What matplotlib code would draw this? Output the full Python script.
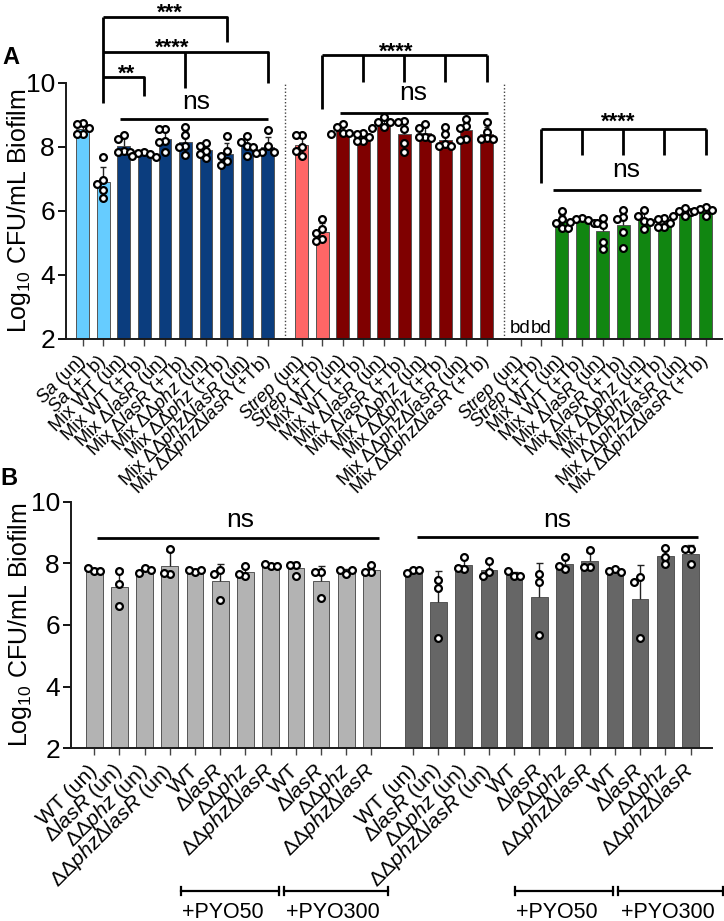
import numpy as np
import matplotlib.pyplot as plt

plt.rcParams['font.family'] = 'Liberation Sans'
plt.rcParams['mathtext.fontset'] = 'custom'
plt.rcParams['mathtext.rm'] = 'Liberation Sans'
plt.rcParams['mathtext.it'] = 'Liberation Sans:italic'
plt.rcParams['mathtext.bf'] = 'Liberation Sans:bold'

# ---- Panel A data (log10 CFU/mL, 5 replicates per bar) ----
sa_labels = [r'$\mathit{Sa}$ (un)', r'$\mathit{Sa}$ (+Tb)',
             'Mix WT (un)', 'Mix WT (+Tb)',
             r'Mix Δ$\mathit{lasR}$ (un)', r'Mix Δ$\mathit{lasR}$ (+Tb)',
             r'Mix ΔΔ$\mathit{phz}$ (un)', r'Mix ΔΔ$\mathit{phz}$ (+Tb)',
             r'Mix ΔΔ$\mathit{phz}$Δ$\mathit{lasR}$ (un)', r'Mix ΔΔ$\mathit{phz}$Δ$\mathit{lasR}$ (+Tb)']
strep_labels = [r'$\mathit{Strep}$ (un)', r'$\mathit{Strep}$ (+Tb)'] + sa_labels[2:]

sa_points = [
    [8.74, 8.72, 8.60, 8.42, 8.40],
    [7.68, 6.96, 6.83, 6.65, 6.40],
    [8.38, 8.25, 7.86, 7.84, 7.83],
    [7.85, 7.82, 7.78, 7.72, 7.70],
    [8.57, 8.55, 8.20, 8.15, 7.85],
    [8.61, 8.37, 8.03, 8.01, 7.75],
    [8.14, 8.04, 7.86, 7.78, 7.65],
    [8.33, 7.86, 7.73, 7.55, 7.44],
    [8.33, 8.17, 8.02, 7.99, 7.73],
    [8.54, 8.02, 7.84, 7.83, 7.82],
]
strep_points = [
    [8.37, 8.36, 7.99, 7.89, 7.71],
    [5.75, 5.45, 5.30, 5.12, 5.05],
    [8.71, 8.61, 8.44, 8.43, 8.42],
    [8.43, 8.40, 8.30, 8.20, 8.19],
    [8.95, 8.79, 8.77, 8.61, 8.60],
    [8.82, 8.77, 8.56, 8.11, 7.83],
    [8.71, 8.58, 8.31, 8.30, 8.29],
    [8.61, 8.40, 8.09, 8.04, 8.03],
    [8.87, 8.66, 8.58, 8.24, 8.23],
    [8.77, 8.48, 8.27, 8.25, 8.24],
]
# first two are below detection (bd)
strep_bd_points = [
    [], [],
    [5.99, 5.76, 5.61, 5.47, 5.46],
    [5.78, 5.74, 5.72, 5.66, 5.64],
    [5.78, 5.61, 5.55, 5.04, 4.82],
    [6.02, 5.81, 5.74, 5.35, 4.85],
    [6.02, 5.84, 5.68, 5.67, 5.45],
    [5.78, 5.74, 5.64, 5.50, 5.49],
    [6.09, 5.99, 5.97, 5.84, 5.83],
    [6.12, 6.07, 6.02, 6.00, 5.84],
]
sa_colors = ['#66CCFF'] * 2 + ['#0B3D7E'] * 8
strep_colors = ['#FF6666'] * 2 + ['#7F0000'] * 8
green_colors = ['#FFFFFF'] * 2 + ['#118611'] * 8

# ---- Panel B data (3 replicates per bar) ----
b_labels = ['WT (un)', r'Δ$\mathit{lasR}$ (un)', r'ΔΔ$\mathit{phz}$ (un)', r'ΔΔ$\mathit{phz}$Δ$\mathit{lasR}$ (un)',
            'WT', r'Δ$\mathit{lasR}$', r'ΔΔ$\mathit{phz}$', r'ΔΔ$\mathit{phz}$Δ$\mathit{lasR}$',
            'WT', r'Δ$\mathit{lasR}$', r'ΔΔ$\mathit{phz}$', r'ΔΔ$\mathit{phz}$Δ$\mathit{lasR}$']
light_points = [
    [7.75, 7.86, 7.76], [7.75, 7.34, 6.62], [7.86, 7.69, 7.78], [8.46, 7.64, 7.69],
    [7.71, 7.80, 7.80], [7.80, 7.67, 6.80], [7.58, 7.91, 7.64], [7.93, 7.98, 7.93],
    [7.95, 7.60, 7.95], [7.72, 7.72, 6.88], [7.67, 7.78, 7.80], [7.72, 7.94, 7.72],
]
dark_points = [
    [7.80, 7.69, 7.78], [7.45, 7.19, 5.59], [8.19, 7.82, 7.86], [8.08, 7.72, 7.58],
    [7.58, 7.75, 7.58], [7.66, 7.41, 5.67], [8.22, 7.82, 7.91], [8.43, 7.89, 7.89],
    [7.82, 7.75, 7.72], [7.56, 7.39, 5.59], [8.49, 8.22, 7.97], [8.46, 8.46, 7.97],
]


def swarm(vals, kx, ky, step_px=6.0, diam=6.5):
    placed = []
    offs = []
    for v in vals:
        best = 0
        for c in [0, -1, 1, -2, 2]:
            if not any(pc == c and abs(v - pv) * ky < diam for pv, pc in placed):
                best = c
                break
        placed.append((v, best))
        offs.append(best * step_px / kx)
    return np.array(offs)


def draw_bars(ax, xs, pts_list, colors, width, kx, ky):
    for x, pts, col in zip(xs, pts_list, colors):
        if len(pts) == 0:
            continue
        pts = np.array(pts)
        m = pts.mean()
        sd = pts.std(ddof=1)
        ax.bar(x, m, width, color=col, edgecolor='#555555', linewidth=0.7, zorder=2)
        ax.vlines(x, m, m + sd, color='#222222', lw=1.0, zorder=3)
        ax.hlines(m + sd, x - 0.14, x + 0.14, color='#222222', lw=1.0, zorder=3)
        ax.scatter(x + swarm(pts, kx, ky), pts, s=24, facecolor='white',
                   edgecolor='black', linewidths=1.6, zorder=4)


def style_axis(ax):
    for s in ['top', 'right']:
        ax.spines[s].set_visible(False)
    for s in ['left', 'bottom']:
        ax.spines[s].set_linewidth(1.4)
        ax.spines[s].set_color('#1a1a1a')
    ax.set_ylim(2, 10)
    ax.set_yticks([2, 4, 6, 8, 10])
    ax.tick_params(axis='y', labelsize=19, length=6, width=1.3, pad=2)
    ax.tick_params(axis='x', length=5, width=1.0, color='#444444', pad=9)


fig = plt.figure(figsize=(7.24, 9.21), dpi=100)

# ---------------- Panel A ----------------
axA = fig.add_axes([66 / 724, 1 - 339 / 921, 656 / 724, 256 / 921])
gap_a = 0.65
xa = np.concatenate([np.arange(10) + s * (10 + gap_a) for s in range(3)])
draw_bars(axA, xa[:10], sa_points, sa_colors, 0.62, 20.56, 32)
draw_bars(axA, xa[10:20], strep_points, strep_colors, 0.62, 20.56, 32)
draw_bars(axA, xa[20:], strep_bd_points, green_colors, 0.62, 20.56, 32)
style_axis(axA)
axA.set_xlim(-0.81, 31.1)
axA.set_xticks(xa)
axA.set_xticklabels(sa_labels + strep_labels + strep_labels, rotation=45, ha='right',
                    va='center', rotation_mode='anchor', fontsize=13.3)
for sep in [(xa[9] + xa[10]) / 2, (xa[19] + xa[20]) / 2]:
    axA.vlines(sep, 2, 10, color='#444444', lw=1.0, linestyles=(0, (1, 1.5)))
for x in xa[20:22]:
    axA.text(x, 2.05, 'bd', ha='center', va='bottom', fontsize=13.5)
axA.set_ylabel('Log$_{10}$ CFU/mL Biofilm', fontsize=18)
axA.yaxis.set_label_coords(-0.05, 0.5)

kw = dict(color='black', lw=2.0, clip_on=False, solid_capstyle='butt')
tkw = dict(ha='center', va='center', clip_on=False)
skw = dict(ha='center', va='baseline', clip_on=False, fontsize=16, weight='bold')
# left group brackets
axA.plot([xa[1], xa[1]], [9.37, 12.07], **kw)
axA.plot([xa[1], xa[7], xa[7]], [12.07, 12.07, 11.28], **kw)
axA.plot([xa[1], xa[9], xa[9]], [10.98, 10.98, 10.0], **kw)
axA.plot([xa[5], xa[5]], [10.98, 9.84], **kw)
axA.plot([xa[1], xa[3], xa[3]], [10.18, 10.18, 9.6], **kw)
axA.text(4.25, 12.0, '***', **skw)
axA.text(4.38, 10.9, '****', **skw)
axA.text(2.14, 10.1, '**', **skw)
axA.plot([1.81, 9.03], [8.87, 8.87], **kw)
axA.text(5.54, 9.42, 'ns', fontsize=19, **tkw)
# middle group
axA.plot([xa[11], xa[11]], [9.19, 10.875], **kw)
axA.plot([xa[11], xa[19]], [10.875, 10.875], **kw)
for i in [13, 15, 17, 19]:
    axA.plot([xa[i], xa[i]], [10.04, 10.875], **kw)
axA.text(15.27, 10.8, '****', **skw)
axA.plot([12.51, 19.7], [9.07, 9.07], **kw)
axA.text(16.07, 9.69, 'ns', fontsize=19, **tkw)
# right group
axA.plot([xa[21], xa[21]], [6.88, 8.55], **kw)
axA.plot([xa[21], xa[29]], [8.55, 8.55], **kw)
for i in [23, 25, 27, 29]:
    axA.plot([xa[i], xa[i]], [7.75, 8.55], **kw)
axA.text(26.04, 8.6, '****', **skw)
axA.plot([22.89, 30.06], [6.66, 6.66], **kw)
axA.text(26.46, 7.28, 'ns', fontsize=19, **tkw)

# ---------------- Panel B ----------------
axB = fig.add_axes([71 / 724, 1 - 748.3 / 921, 640.7 / 724, 246.6 / 921])
xb = np.concatenate([np.arange(12), np.arange(12) + 12.66])
draw_bars(axB, xb[:12], light_points, ['#B3B3B3'] * 12, 0.66, 25.2, 30.8)
draw_bars(axB, xb[12:], dark_points, ['#666666'] * 12, 0.66, 25.2, 30.8)
style_axis(axB)
axB.set_xlim(-0.92, 24.5)
axB.set_xticks(xb)
axB.set_xticklabels(b_labels + b_labels, rotation=45, ha='right', va='center',
                    rotation_mode='anchor', fontsize=15.3)
axB.set_ylabel('Log$_{10}$ CFU/mL Biofilm', fontsize=18)
axB.yaxis.set_label_coords(-0.058, 0.5)

axB.plot([0.13, 11.31], [8.83, 8.83], **kw)
axB.text(5.79, 9.41, 'ns', fontsize=19, **tkw)
axB.plot([12.79, 23.97], [8.86, 8.86], **kw)
axB.text(18.39, 9.41, 'ns', fontsize=19, **tkw)

trans = axB.get_xaxis_transform()
for (x0, x1), lab, xt in [((3.44, 7.33), '+PYO50', 5.11), ((7.54, 11.67), '+PYO300', 9.47),
                           ((16.69, 20.57), '+PYO50', 18.35), ((20.79, 24.96), '+PYO300', 22.78)]:
    axB.plot([x0, x1], [-0.579, -0.579], transform=trans, color='black', lw=1.6, clip_on=False)
    for xe in (x0, x1):
        axB.plot([xe, xe], [-0.595, -0.563], transform=trans, color='black', lw=1.6, clip_on=False)
    axB.text(xt, -0.665, lab, transform=trans, ha='center', va='center', fontsize=15.5, clip_on=False)

fig.text(0.004, 1 - 58 / 921, 'A', fontsize=17, weight='bold', va='center', ha='left')
fig.text(0.0, 1 - 478 / 921, 'B', fontsize=17, weight='bold', va='center', ha='left')

fig.savefig('out.png', dpi=100)
